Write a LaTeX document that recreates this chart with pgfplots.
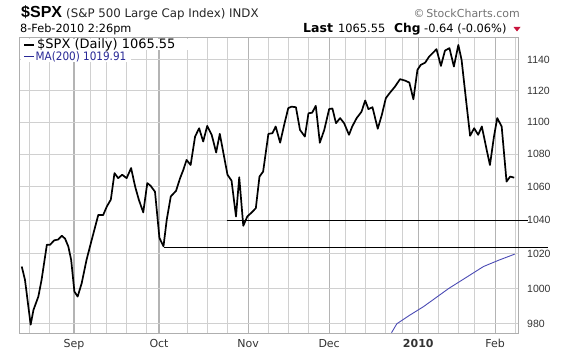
\documentclass[border=0pt]{standalone}
\usepackage{fontspec}
\setmainfont{DejaVu Sans}
\newfontfamily\arial{Liberation Sans}
\newfontfamily\cond{DejaVu Sans Condensed}
\usepackage{pgfplots}
\pgfplotsset{compat=1.18}
\definecolor{maline}{RGB}{75,75,180}
\definecolor{matext}{RGB}{40,40,150}
\definecolor{monthgrid}{RGB}{180,180,180}
\definecolor{weekgrid}{RGB}{208,208,208}
\definecolor{frame}{RGB}{175,175,175}
\definecolor{downred}{RGB}{200,20,60}
\begin{document}
\begin{tikzpicture}[x=1pt,y=1pt]
\useasboundingbox (0,0) rectangle (576,355);
\begin{axis}[
  at={(20pt,21pt)}, anchor=south west,
  width=498pt, height=296pt, scale only axis,
  xmin=-13.33, xmax=109.63,
  ymode=log, ymin=974.4, ymax=1154.5,
  clip=false,
  axis line style={draw=frame, line width=1pt},
  xtick={0,21,43,63,85,104},
  xticklabels={Sep,Oct,Nov,Dec,\textbf{2010},Feb},
  minor xtick={-11,-6,4,8,13,18,28,33,38,48,53,58,67,72,77,81,90,95,99,109},
  ytick={980,1000,1020,1040,1060,1080,1100,1120,1140},
  yticklabels={980,1000,1020,1040,1060,1080,1100,1120,1140},
  yticklabel pos=right,
  major tick length=0pt, minor tick length=0pt,
  xmajorgrids=true, xminorgrids=true, ymajorgrids=true,
  grid style={draw=weekgrid, line width=1pt},
  minor grid style={draw=weekgrid, line width=1pt},
  major grid style={draw=weekgrid, line width=1pt},
  major x grid style={draw=monthgrid, line width=1.1pt},
  xticklabel style={font=\fontsize{11}{13}\selectfont, text=black!80, anchor=base, yshift=-14pt},
  yticklabel style={font=\arial\fontsize{10.5}{12}\selectfont, text=black!80, anchor=west, inner sep=0pt, xshift=9pt},
]
% 200-day moving average
\addplot[color=maline, line width=0.9pt] coordinates {
(78.4,975.0) (79.7,980.0) (83.0,985.0) (86.3,989.7) (89.5,995.0) (92.5,1000.0)
(97.0,1006.6) (101.1,1012.7) (105.0,1016.5) (108.8,1019.9)
};
% support lines
\addplot[black, line width=1.1pt] coordinates {(22.2,1023.8) (117.1,1023.8)};
\addplot[black, line width=1.1pt] coordinates {(37.7,1040.0) (112.2,1040.0)};
% price
\addplot[black, line width=1.7pt, line join=round] coordinates {
(-12.9,1012.7) (-12.1,1005.0) (-10.7,979.5) (-10.0,987.9) (-8.8,995.4) (-8.0,1005.0)
(-6.7,1025.4) (-5.9,1025.4) (-4.9,1028.0) (-3.9,1028.5) (-3.0,1030.7) (-2.2,1029.0)
(-1.4,1024.4) (-0.7,1016.6) (0.1,998.3) (0.9,995.4) (1.9,1003.0) (3.1,1016.6)
(4.4,1028.5) (6.0,1043.1) (7.2,1043.0) (8.1,1048.1) (9.1,1052.3) (10.0,1068.4)
(10.9,1065.3) (11.9,1067.4) (13.0,1065.3) (14.1,1071.5) (15.1,1060.2) (16.0,1052.3)
(17.1,1044.6) (18.1,1062.3) (18.9,1060.7) (20.0,1057.1) (21.1,1029.4) (22.1,1024.5)
(22.9,1040.2) (23.9,1054.2) (25.2,1057.6) (26.2,1065.3) (27.0,1070.4) (27.8,1076.5)
(28.8,1073.4) (29.9,1091.0) (30.9,1096.2) (31.9,1087.9) (32.9,1097.7) (34.0,1092.1)
(35.1,1081.1) (36.0,1092.7) (36.9,1080.7) (37.9,1067.4) (38.9,1063.8) (40.0,1042.2)
(40.8,1065.9) (41.8,1036.6) (42.8,1042.2) (43.9,1044.6) (44.9,1047.2) (45.8,1066.3)
(46.7,1069.3) (48.0,1092.7) (49.0,1093.1) (49.8,1097.3) (50.9,1087.2) (51.9,1098.4)
(52.9,1108.9) (53.7,1109.9) (54.8,1109.5) (55.8,1095.2) (57.0,1091.0) (57.9,1105.7)
(58.8,1106.0) (59.7,1110.4) (60.7,1087.2) (61.8,1095.2) (63.0,1108.3) (63.8,1108.7)
(64.7,1099.4) (65.7,1102.6) (66.7,1099.4) (67.9,1092.1) (68.7,1097.3) (69.8,1102.6)
(71.0,1106.7) (71.9,1113.8) (72.7,1108.3) (73.7,1109.5) (75.0,1095.9) (76.0,1104.6)
(77.0,1115.3) (78.0,1118.7) (79.3,1122.8) (80.5,1127.5) (81.7,1126.6) (82.8,1125.3)
(83.8,1114.6) (84.8,1133.5) (85.6,1136.7) (86.7,1138.2) (87.7,1142.2) (88.7,1144.8)
(89.5,1147.0) (90.6,1136.1) (91.6,1146.1) (92.7,1147.7) (93.8,1135.7) (94.9,1149.8)
(95.7,1140.0) (96.8,1114.1) (97.8,1091.5) (98.8,1096.2) (99.8,1092.1) (100.7,1097.3)
(101.9,1082.7) (102.7,1073.4) (103.7,1091.0) (104.5,1102.6) (105.6,1097.3) (106.8,1063.2)
(107.7,1066.3) (108.7,1065.6)
};
\end{axis}
% legend
\fill[white] (20.6,304.5) rectangle (192,316.4);
\fill[white] (20.6,292.5) rectangle (131,304.5);
\draw[black, line width=2.6pt] (24,310) -- (34,310);
\node[anchor=base west, inner sep=0pt, font=\fontsize{13}{15}\selectfont] at (37,306.5) {\$SPX (Daily) 1065.55};
\draw[matext, line width=1.6pt] (24,298.5) -- (34,298.5);
\node[anchor=base west, inner sep=0pt, text=matext, font=\cond\fontsize{11.6}{13}\selectfont] at (35.5,294.8) {MA(200) 1019.91};
% header
\node[anchor=base west, inner sep=0pt, font=\arial\bfseries\fontsize{16}{18}\selectfont] at (21,337) {\$SPX};
\node[anchor=base west, inner sep=0pt, text=black!85, font=\fontsize{11.8}{14}\selectfont] at (66,337) {(S\&P 500 Large Cap Index) INDX};
\node[anchor=base west, inner sep=0pt, font=\fontsize{11.3}{13}\selectfont] at (20,322) {8-Feb-2010 2:26pm};
\node[anchor=base east, inner sep=0pt, text=black!55, font=\fontsize{11}{13}\selectfont] at (520,337.5) {\textcopyright\,StockCharts.com};
\node[anchor=base west, inner sep=0pt, font=\bfseries\fontsize{12.5}{14}\selectfont] at (303,322) {Last};
\node[anchor=base west, inner sep=0pt, font=\fontsize{11.4}{13}\selectfont] at (338,322) {1065.55};
\node[anchor=base west, inner sep=0pt, font=\bfseries\fontsize{12.2}{14}\selectfont] at (394,322) {Chg};
\node[anchor=base west, inner sep=0pt, font=\fontsize{11.4}{13}\selectfont] at (424,322) {-0.64 (-0.06\%)};
\fill[downred] (513.5,328) -- (520.5,328) -- (517,323.5) -- cycle;
\end{tikzpicture}
\end{document}
